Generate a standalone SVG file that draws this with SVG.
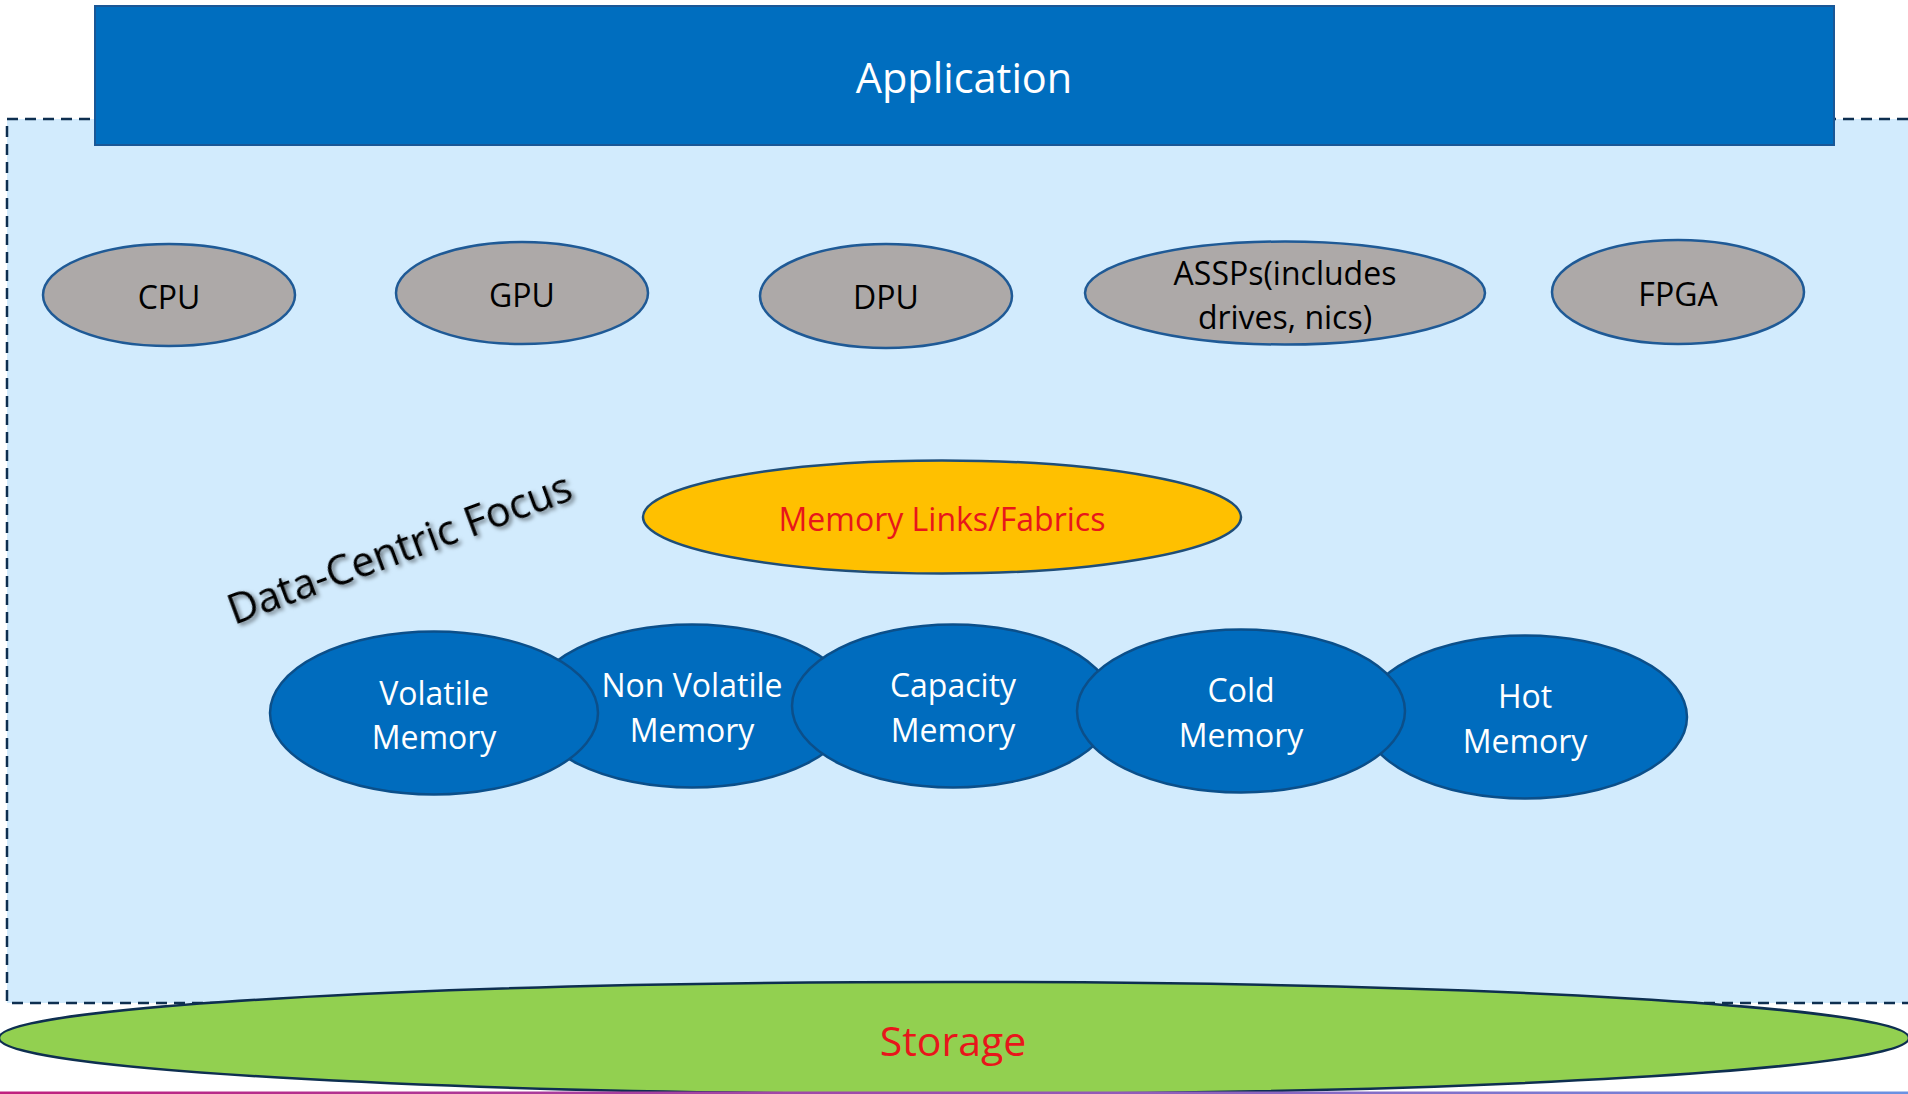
<svg xmlns="http://www.w3.org/2000/svg" width="1908" height="1094" viewBox="0 0 1908 1094">
<style>
  text { font-family: "Open Sans", "Noto Sans", "Liberation Sans", sans-serif; text-anchor: middle; dominant-baseline: central; }
  .proc { fill: #ADA9A8; stroke: #1F5A96; stroke-width: 2.5; }
  .proc-t { fill: #000; font-size: 32px; }
  .mem { fill: #006CBE; stroke: #0B4F8A; stroke-width: 2.5; }
  .mem-t { fill: #fff; font-size: 32px; }
</style>
<defs>
  <linearGradient id="bottomLine" x1="0" y1="0" x2="1" y2="0">
    <stop offset="0" stop-color="#C0207E"/>
    <stop offset="0.5" stop-color="#9A4FB0"/>
    <stop offset="1" stop-color="#6A92E2"/>
  </linearGradient>
  <filter id="shadow" x="-10%" y="-30%" width="120%" height="160%">
    <feDropShadow dx="2" dy="3" stdDeviation="2" flood-color="#000" flood-opacity="0.55"/>
  </filter>
</defs>

<g id="focus-area">
  <rect x="7" y="119" width="1906" height="884" fill="#D2EBFD" stroke="#0E2F50" stroke-width="2.5" stroke-dasharray="11 7"/>
</g>

<g id="application">
  <rect x="95" y="6" width="1739" height="139" fill="#006EBF" stroke="#1A5796" stroke-width="2"/>
  <text x="964" y="77" fill="#fff" font-size="41.5">Application</text>
</g>

<g id="cpu">
  <ellipse class="proc" cx="169" cy="295" rx="126" ry="51"/>
  <text class="proc-t" x="169" y="296">CPU</text>
</g>
<g id="gpu">
  <ellipse class="proc" cx="522" cy="293" rx="126" ry="51"/>
  <text class="proc-t" x="522" y="294">GPU</text>
</g>
<g id="dpu">
  <ellipse class="proc" cx="886" cy="296" rx="126" ry="52"/>
  <text class="proc-t" x="886" y="296">DPU</text>
</g>
<g id="assps">
  <ellipse class="proc" cx="1285" cy="293" rx="200" ry="51.5"/>
  <text class="proc-t" x="1285" y="272">ASSPs(includes</text>
  <text class="proc-t" x="1285" y="316">drives, nics)</text>
</g>
<g id="fpga">
  <ellipse class="proc" cx="1678" cy="292" rx="126" ry="52"/>
  <text class="proc-t" x="1678" y="293">FPGA</text>
</g>

<g id="memory-links">
  <ellipse cx="942" cy="517" rx="299" ry="56.5" fill="#FFC000" stroke="#1F4E79" stroke-width="2.5"/>
  <text x="942" y="518" fill="#E8161B" font-size="32">Memory Links/Fabrics</text>
</g>

<g id="data-centric-focus">
  <text x="399" y="547" font-size="41.5" fill="#000" transform="rotate(-20.3 399 547)" filter="url(#shadow)">Data-Centric Focus</text>
</g>

<g id="non-volatile-memory">
  <ellipse class="mem" cx="692" cy="706" rx="162" ry="81.5"/>
  <text class="mem-t" x="692" y="684">Non Volatile</text>
  <text class="mem-t" x="692" y="729">Memory</text>
</g>
<g id="volatile-memory">
  <ellipse class="mem" cx="434" cy="713" rx="164" ry="81.5"/>
  <text class="mem-t" x="434" y="692">Volatile</text>
  <text class="mem-t" x="434" y="736">Memory</text>
</g>
<g id="capacity-memory">
  <ellipse class="mem" cx="953" cy="706" rx="161" ry="81.5"/>
  <text class="mem-t" x="953" y="684">Capacity</text>
  <text class="mem-t" x="953" y="729">Memory</text>
</g>
<g id="hot-memory">
  <ellipse class="mem" cx="1525" cy="717" rx="162" ry="81.5"/>
  <text class="mem-t" x="1525" y="695">Hot</text>
  <text class="mem-t" x="1525" y="740">Memory</text>
</g>
<g id="cold-memory">
  <ellipse class="mem" cx="1241" cy="711" rx="164" ry="81.5"/>
  <text class="mem-t" x="1241" y="689">Cold</text>
  <text class="mem-t" x="1241" y="734">Memory</text>
</g>

<g id="storage">
  <ellipse cx="954" cy="1038" rx="955" ry="56" fill="#92D050" stroke="#0E2F50" stroke-width="2.5"/>
  <text x="953" y="1040" fill="#E8161B" font-size="41">Storage</text>
</g>

<g id="connectors"></g>

<rect x="0" y="1091.5" width="1908" height="2.5" fill="url(#bottomLine)"/>
</svg>
